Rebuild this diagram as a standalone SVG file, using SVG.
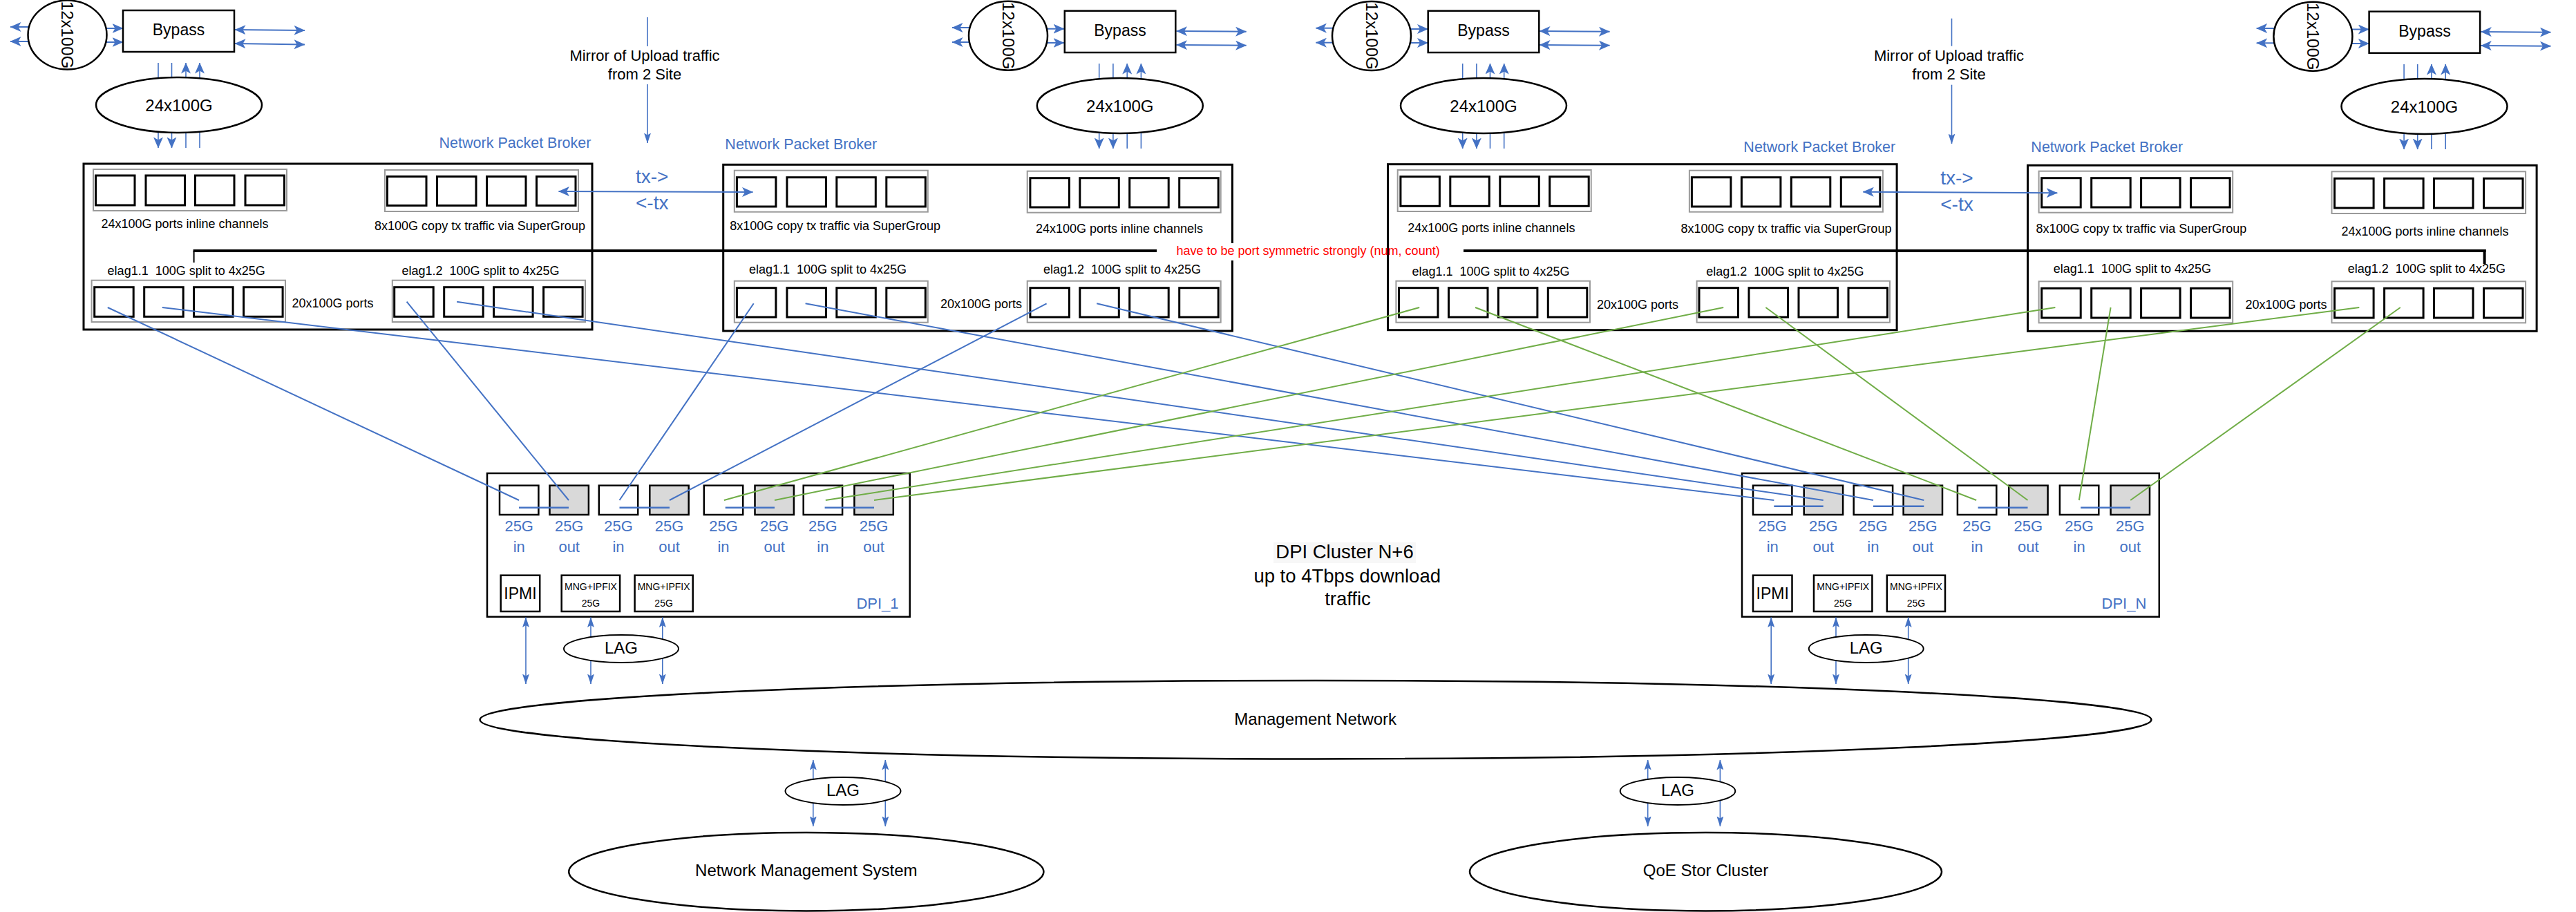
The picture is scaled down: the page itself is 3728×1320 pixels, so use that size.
<svg xmlns="http://www.w3.org/2000/svg" width="3728" height="1320" viewBox="0 0 3728 1320">
<style>
.bg{fill:#fff}
.box{fill:#fff;stroke:#000;stroke-width:3}
.grp{fill:none;stroke:#9a9a9a;stroke-width:2}
.port{fill:#fff;stroke:#000;stroke-width:3}
.pg{fill:#d9d9d9;stroke:#000;stroke-width:3}
.ell{fill:#fff;stroke:#000;stroke-width:2.5}
.t{font-family:"Liberation Sans",Arial,sans-serif;fill:#000}
.m{text-anchor:middle}
.e{text-anchor:end}
.s18{font-size:18px}
.s14{font-size:14px}
.s22{font-size:22px}
.s24{font-size:24px}
.blue{fill:#4472C4}
.npb{font-size:21.5px;fill:#4472C4}
.cb{stroke:#4472C4;stroke-width:2;fill:none}
.cg{stroke:#70AD47;stroke-width:2;fill:none}
.ca{stroke:#4472C4;stroke-width:2;fill:none}
.cv{stroke:#4472C4;stroke-width:1.6;fill:none}
.ab{marker-end:url(#ahb)}
.abb{marker-start:url(#ahb);marker-end:url(#ahb)}
.as{marker-end:url(#ahs)}
.ass{marker-start:url(#ahs);marker-end:url(#ahs)}
</style>
<defs>
<marker id="ahb" viewBox="0 0 16 14" refX="15.5" refY="7" markerWidth="16" markerHeight="14" markerUnits="userSpaceOnUse" orient="auto-start-reverse"><path d="M0,0 L16,7 L0,14 L4,7 Z" fill="#4472C4"/></marker>
<marker id="ahs" viewBox="0 0 15 10" refX="14.5" refY="5" markerWidth="15" markerHeight="10" markerUnits="userSpaceOnUse" orient="auto-start-reverse"><path d="M0,0 L15,5 L0,10 L3,5 Z" fill="#4472C4"/></marker>
</defs>
<rect class="bg" x="0" y="0" width="3728" height="1320"/>

<!-- Bypass 1 -->
<g id="bypass1">
<line class="ca ab" x1="42" y1="39" x2="15" y2="39"/>
<line class="ca ab" x1="42" y1="60" x2="15" y2="60"/>
<line class="ca ab" x1="153" y1="41" x2="178" y2="41"/>
<line class="ca ab" x1="153" y1="61" x2="178" y2="61"/>
<line class="ca abb" x1="340" y1="43" x2="441" y2="44"/>
<line class="ca abb" x1="340" y1="63" x2="441" y2="64.5"/>
<line class="cv" x1="229" y1="91" x2="229" y2="113"/>
<line class="cv" x1="248.5" y1="91" x2="248.5" y2="113"/>
<line class="cv ab" x1="269" y1="113" x2="269" y2="91"/>
<line class="cv ab" x1="289" y1="113" x2="289" y2="91"/>
<line class="cv ab" x1="229" y1="192" x2="229" y2="214"/>
<line class="cv ab" x1="248.5" y1="192" x2="248.5" y2="214"/>
<line class="cv" x1="269" y1="192" x2="269" y2="214"/>
<line class="cv" x1="289" y1="192" x2="289" y2="214"/>
<ellipse class="ell" cx="97.5" cy="50.5" rx="57" ry="50"/>
<text class="t s24 m" x="97.5" y="59" transform="rotate(90 97.5 50.5)">12x100G</text>
<rect class="box" x="178" y="15" width="161" height="60" style="stroke-width:2.5"/>
<text class="t m" style="font-size:23px" x="258.5" y="51">Bypass</text>
<ellipse class="ell" cx="259" cy="152" rx="120" ry="40"/>
<text class="t s24 m" x="259" y="160.7">24x100G</text>
</g>

<!-- Bypass 2 -->
<g id="bypass2">
<line class="ca ab" x1="1404" y1="40" x2="1378" y2="40"/>
<line class="ca ab" x1="1404" y1="61" x2="1378" y2="61"/>
<line class="ca ab" x1="1514" y1="41.7" x2="1540" y2="41.7"/>
<line class="ca ab" x1="1514" y1="62" x2="1540" y2="62"/>
<line class="ca abb" x1="1702.5" y1="45" x2="1803.6" y2="45.8"/>
<line class="ca abb" x1="1702.5" y1="65" x2="1803.6" y2="65.8"/>
<line class="cv" x1="1590.7" y1="92" x2="1590.7" y2="114"/>
<line class="cv" x1="1610.9" y1="92" x2="1610.9" y2="114"/>
<line class="cv ab" x1="1631.2" y1="114" x2="1631.2" y2="92"/>
<line class="cv ab" x1="1651.4" y1="114" x2="1651.4" y2="92"/>
<line class="cv ab" x1="1590.7" y1="193" x2="1590.7" y2="215"/>
<line class="cv ab" x1="1610.9" y1="193" x2="1610.9" y2="215"/>
<line class="cv" x1="1631.2" y1="193" x2="1631.2" y2="215"/>
<line class="cv" x1="1651.4" y1="193" x2="1651.4" y2="215"/>
<ellipse class="ell" cx="1459" cy="51.7" rx="57" ry="50"/>
<text class="t s24 m" x="1459" y="60.2" transform="rotate(90 1459 51.7)">12x100G</text>
<rect class="box" x="1540.8" y="15.7" width="160.5" height="60.3" style="stroke-width:2.5"/>
<text class="t m" style="font-size:23px" x="1621" y="52">Bypass</text>
<ellipse class="ell" cx="1620.8" cy="153" rx="120" ry="40"/>
<text class="t s24 m" x="1620.8" y="161.7">24x100G</text>
</g>

<!-- Bypass 3 -->
<g id="bypass3">
<line class="ca ab" x1="1930" y1="40.7" x2="1904.4" y2="40.7"/>
<line class="ca ab" x1="1930" y1="61.7" x2="1904.4" y2="61.7"/>
<line class="ca ab" x1="2040" y1="42" x2="2066.5" y2="42"/>
<line class="ca ab" x1="2040" y1="62" x2="2066.5" y2="62"/>
<line class="ca abb" x1="2228" y1="45" x2="2329.5" y2="45.8"/>
<line class="ca abb" x1="2228" y1="65" x2="2329.5" y2="65.8"/>
<line class="cv" x1="2116.7" y1="92" x2="2116.7" y2="114"/>
<line class="cv" x1="2136.9" y1="92" x2="2136.9" y2="114"/>
<line class="cv ab" x1="2156.5" y1="114" x2="2156.5" y2="92"/>
<line class="cv ab" x1="2176.7" y1="114" x2="2176.7" y2="92"/>
<line class="cv ab" x1="2116.7" y1="193" x2="2116.7" y2="215"/>
<line class="cv ab" x1="2136.9" y1="193" x2="2136.9" y2="215"/>
<line class="cv" x1="2156.5" y1="193" x2="2156.5" y2="215"/>
<line class="cv" x1="2176.7" y1="193" x2="2176.7" y2="215"/>
<ellipse class="ell" cx="1985" cy="52" rx="57" ry="50"/>
<text class="t s24 m" x="1985" y="60.5" transform="rotate(90 1985 52)">12x100G</text>
<rect class="box" x="2066.7" y="15.7" width="160.6" height="60.3" style="stroke-width:2.5"/>
<text class="t m" style="font-size:23px" x="2147" y="52">Bypass</text>
<ellipse class="ell" cx="2147" cy="153" rx="120" ry="40"/>
<text class="t s24 m" x="2147" y="161.7">24x100G</text>
</g>

<!-- Bypass 4 -->
<g id="bypass4">
<line class="ca ab" x1="3292" y1="41" x2="3265.7" y2="41"/>
<line class="ca ab" x1="3292" y1="62.3" x2="3265.7" y2="62.3"/>
<line class="ca ab" x1="3402" y1="42.5" x2="3428.4" y2="42.5"/>
<line class="ca ab" x1="3402" y1="63" x2="3428.4" y2="63"/>
<line class="ca abb" x1="3590.3" y1="46" x2="3691.4" y2="46.8"/>
<line class="ca abb" x1="3590.3" y1="66" x2="3691.4" y2="66.8"/>
<line class="cv" x1="3479.1" y1="93" x2="3479.1" y2="115"/>
<line class="cv" x1="3498.7" y1="93" x2="3498.7" y2="115"/>
<line class="cv ab" x1="3518.9" y1="115" x2="3518.9" y2="93"/>
<line class="cv ab" x1="3539.2" y1="115" x2="3539.2" y2="93"/>
<line class="cv ab" x1="3479.1" y1="194" x2="3479.1" y2="216"/>
<line class="cv ab" x1="3498.7" y1="194" x2="3498.7" y2="216"/>
<line class="cv" x1="3518.9" y1="194" x2="3518.9" y2="216"/>
<line class="cv" x1="3539.2" y1="194" x2="3539.2" y2="216"/>
<ellipse class="ell" cx="3347.4" cy="52.7" rx="57" ry="50"/>
<text class="t s24 m" x="3347.4" y="61.2" transform="rotate(90 3347.4 52.7)">12x100G</text>
<rect class="box" x="3428.6" y="16.7" width="160.5" height="60" style="stroke-width:2.5"/>
<text class="t m" style="font-size:23px" x="3509" y="53">Bypass</text>
<ellipse class="ell" cx="3508.5" cy="154" rx="120" ry="40"/>
<text class="t s24 m" x="3508.5" y="162.7">24x100G</text>
</g>

<!-- Mirror labels -->
<g id="mirror1">
<line class="cv" x1="937" y1="25" x2="937" y2="67"/>
<line class="cv as" x1="937" y1="122" x2="937" y2="207"/>
<text class="t s22 m" x="933" y="88">Mirror of Upload traffic</text>
<text class="t s22 m" x="933" y="115">from 2 Site</text>
</g>
<g id="mirror2">
<line class="cv" x1="2824.5" y1="26.7" x2="2824.5" y2="66.7"/>
<line class="cv as" x1="2824.5" y1="122.7" x2="2824.5" y2="208"/>
<text class="t s22 m" x="2820.5" y="88.3">Mirror of Upload traffic</text>
<text class="t s22 m" x="2820.5" y="115">from 2 Site</text>
</g>

<!-- NPB 1 -->
<g id="npb1">
<text class="t npb m" x="745.5" y="214">Network Packet Broker</text>
<rect class="box" x="121" y="237" width="736" height="240"/>
<rect class="grp" x="135" y="245" width="280" height="60"/>
<rect class="port" x="138.5" y="254" width="56.5" height="43"/>
<rect class="port" x="211" y="254" width="56.5" height="43"/>
<rect class="port" x="282.5" y="254" width="56.5" height="43"/>
<rect class="port" x="355" y="254" width="56.5" height="43"/>
<rect class="grp" x="557" y="246" width="280" height="60"/>
<rect class="port" x="560.5" y="255.5" width="56.5" height="42"/>
<rect class="port" x="632.5" y="255.5" width="56.5" height="42"/>
<rect class="port" x="704.5" y="255.5" width="56.5" height="42"/>
<rect class="port" x="776.5" y="255.5" width="56.5" height="42"/>
<text class="t s18 m" x="267.5" y="330">24x100G ports inline channels</text>
<text class="t s18 m" x="694.5" y="333">8x100G copy tx traffic via SuperGroup</text>
<text class="t s18 m" x="269.7" y="398" xml:space="preserve">elag1.1  100G split to 4x25G</text>
<text class="t s18 m" x="695.5" y="398" xml:space="preserve">elag1.2  100G split to 4x25G</text>
<text class="t s18 m" x="481.5" y="445">20x100G ports</text>
<rect class="grp" x="132.6" y="405.7" width="280.4" height="60.3"/>
<rect class="port" x="136.7" y="415.7" width="56.5" height="42.6"/>
<rect class="port" x="208.7" y="415.7" width="56.5" height="42.6"/>
<rect class="port" x="280.6" y="415.7" width="56.5" height="42.6"/>
<rect class="port" x="352.6" y="415.7" width="56.5" height="42.6"/>
<rect class="grp" x="567.8" y="405.7" width="279.2" height="60.3"/>
<rect class="port" x="570.7" y="415.7" width="56.5" height="42.6"/>
<rect class="port" x="642.7" y="415.7" width="56.5" height="42.6"/>
<rect class="port" x="714.6" y="415.7" width="56.5" height="42.6"/>
<rect class="port" x="786.6" y="415.7" width="56.5" height="42.6"/>
</g>

<!-- NPB 2 -->
<g id="npb2">
<text class="t npb m" x="1159.3" y="216">Network Packet Broker</text>
<rect class="box" x="1046.7" y="238.3" width="736.7" height="240.7"/>
<rect class="grp" x="1062.8" y="246.7" width="280" height="60"/>
<rect class="port" x="1066.4" y="256.7" width="56.5" height="42.3"/>
<rect class="port" x="1138.9" y="256.7" width="56.5" height="42.3"/>
<rect class="port" x="1210.8" y="256.7" width="56.5" height="42.3"/>
<rect class="port" x="1282.8" y="256.7" width="56.5" height="42.3"/>
<rect class="grp" x="1486.7" y="247.7" width="280" height="60"/>
<rect class="port" x="1490.9" y="257.7" width="56.5" height="42.3"/>
<rect class="port" x="1562.8" y="257.7" width="56.5" height="42.3"/>
<rect class="port" x="1634.7" y="257.7" width="56.5" height="42.3"/>
<rect class="port" x="1706.7" y="257.7" width="56.5" height="42.3"/>
<text class="t s18 m" x="1208.7" y="333">8x100G copy tx traffic via SuperGroup</text>
<text class="t s18 m" x="1620" y="337">24x100G ports inline channels</text>
<text class="t s18 m" x="1198" y="396" xml:space="preserve">elag1.1  100G split to 4x25G</text>
<text class="t s18 m" x="1624" y="396" xml:space="preserve">elag1.2  100G split to 4x25G</text>
<text class="t s18 m" x="1420" y="446">20x100G ports</text>
<rect class="grp" x="1062.8" y="406.7" width="280" height="60"/>
<rect class="port" x="1066.4" y="416.7" width="56.5" height="42.3"/>
<rect class="port" x="1138.9" y="416.7" width="56.5" height="42.3"/>
<rect class="port" x="1210.8" y="416.7" width="56.5" height="42.3"/>
<rect class="port" x="1282.8" y="416.7" width="56.5" height="42.3"/>
<rect class="grp" x="1486.7" y="406.7" width="280" height="60"/>
<rect class="port" x="1490.9" y="416.7" width="56.5" height="42.3"/>
<rect class="port" x="1562.8" y="416.7" width="56.5" height="42.3"/>
<rect class="port" x="1634.7" y="416.7" width="56.5" height="42.3"/>
<rect class="port" x="1706.7" y="416.7" width="56.5" height="42.3"/>
</g>

<!-- NPB 3 -->
<g id="npb3">
<text class="t npb m" x="2633.3" y="220">Network Packet Broker</text>
<rect class="box" x="2008.5" y="237.7" width="736.6" height="240"/>
<rect class="grp" x="2022.7" y="246" width="280" height="60"/>
<rect class="port" x="2026.9" y="255.7" width="56.5" height="42.6"/>
<rect class="port" x="2098.8" y="255.7" width="56.5" height="42.6"/>
<rect class="port" x="2170.8" y="255.7" width="56.5" height="42.6"/>
<rect class="port" x="2242.7" y="255.7" width="56.5" height="42.6"/>
<rect class="grp" x="2444.9" y="246.7" width="280" height="60"/>
<rect class="port" x="2448.4" y="256.7" width="56.5" height="42.3"/>
<rect class="port" x="2520.4" y="256.7" width="56.5" height="42.3"/>
<rect class="port" x="2592.3" y="256.7" width="56.5" height="42.3"/>
<rect class="port" x="2664.3" y="256.7" width="56.5" height="42.3"/>
<text class="t s18 m" x="2158.3" y="335.7">24x100G ports inline channels</text>
<text class="t s18 m" x="2585" y="337">8x100G copy tx traffic via SuperGroup</text>
<text class="t s18 m" x="2157.5" y="399" xml:space="preserve">elag1.1  100G split to 4x25G</text>
<text class="t s18 m" x="2583.4" y="399" xml:space="preserve">elag1.2  100G split to 4x25G</text>
<text class="t s18 m" x="2370" y="447">20x100G ports</text>
<rect class="grp" x="2020.4" y="406.7" width="280.6" height="60"/>
<rect class="port" x="2024.5" y="416.7" width="56.5" height="42.3"/>
<rect class="port" x="2096.5" y="416.7" width="56.5" height="42.3"/>
<rect class="port" x="2168.4" y="416.7" width="56.5" height="42.3"/>
<rect class="port" x="2240.3" y="416.7" width="56.5" height="42.3"/>
<rect class="grp" x="2455.6" y="406.7" width="279.4" height="60"/>
<rect class="port" x="2459" y="416.7" width="56.5" height="42.3"/>
<rect class="port" x="2531" y="416.7" width="56.5" height="42.3"/>
<rect class="port" x="2603" y="416.7" width="56.5" height="42.3"/>
<rect class="port" x="2675" y="416.7" width="56.5" height="42.3"/>
</g>

<!-- NPB 4 -->
<g id="npb4">
<text class="t npb m" x="3049.3" y="220">Network Packet Broker</text>
<rect class="box" x="2934.5" y="239.3" width="736.6" height="240"/>
<rect class="grp" x="2950.6" y="247.7" width="280.6" height="60"/>
<rect class="port" x="2954.7" y="257.7" width="56.5" height="42.3"/>
<rect class="port" x="3026.7" y="257.7" width="56.5" height="42.3"/>
<rect class="port" x="3098.6" y="257.7" width="56.5" height="42.3"/>
<rect class="port" x="3170.6" y="257.7" width="56.5" height="42.3"/>
<rect class="grp" x="3374.5" y="248.3" width="280.6" height="60.7"/>
<rect class="port" x="3378.6" y="258.3" width="56.5" height="42.7"/>
<rect class="port" x="3450.6" y="258.3" width="56.5" height="42.7"/>
<rect class="port" x="3522.5" y="258.3" width="56.5" height="42.7"/>
<rect class="port" x="3594.5" y="258.3" width="56.5" height="42.7"/>
<text class="t s18 m" x="3098.9" y="336.7">8x100G copy tx traffic via SuperGroup</text>
<text class="t s18 m" x="3509.5" y="340.7">24x100G ports inline channels</text>
<text class="t s18 m" x="3085.9" y="395" xml:space="preserve">elag1.1  100G split to 4x25G</text>
<text class="t s18 m" x="3511.9" y="395" xml:space="preserve">elag1.2  100G split to 4x25G</text>
<text class="t s18 m" x="3308.5" y="446.7">20x100G ports</text>
<rect class="grp" x="2950.6" y="407.3" width="280.6" height="60"/>
<rect class="port" x="2954.7" y="417.3" width="56.5" height="42.7"/>
<rect class="port" x="3026.7" y="417.3" width="56.5" height="42.7"/>
<rect class="port" x="3098.6" y="417.3" width="56.5" height="42.7"/>
<rect class="port" x="3170.6" y="417.3" width="56.5" height="42.7"/>
<rect class="grp" x="3374.5" y="407.3" width="280.6" height="60"/>
<rect class="port" x="3378.6" y="417.3" width="56.5" height="42.7"/>
<rect class="port" x="3450.6" y="417.3" width="56.5" height="42.7"/>
<rect class="port" x="3522.5" y="417.3" width="56.5" height="42.7"/>
<rect class="port" x="3594.5" y="417.3" width="56.5" height="42.7"/>
</g>

<!-- symmetry annotation -->
<g id="symmetry">
<line x1="280.6" y1="363" x2="280.6" y2="380" stroke="#000" stroke-width="2"/>
<line x1="279.6" y1="363" x2="1674" y2="363" stroke="#000" stroke-width="4"/>
<line x1="2118" y1="363" x2="3597.6" y2="363" stroke="#000" stroke-width="4"/>
<line x1="3595.6" y1="361" x2="3595.6" y2="382" stroke="#000" stroke-width="4"/>
<rect x="1700" y="352" width="100" height="25" fill="#fff"/>
<text class="t s18" x="1702.5" y="369" style="fill:#FF0000">have to be port symmetric strongly (num, count)</text>
</g>

<!-- tx labels -->
<g id="tx1">
<text class="t m blue" style="font-size:28px" x="943.7" y="265">tx-&gt;</text>
<text class="t m blue" style="font-size:28px" x="943.7" y="303">&lt;-tx</text>
</g>
<g id="tx2">
<text class="t m blue" style="font-size:28px" x="2832" y="266.7">tx-&gt;</text>
<text class="t m blue" style="font-size:28px" x="2832" y="305">&lt;-tx</text>
</g>

<!-- DPI_1 -->
<g id="dpi1">
<rect class="box" x="705" y="685" width="611.7" height="207.7" style="stroke-width:2.5"/>
<rect class="port" x="723" y="702.7" width="56.4" height="42.3" style="stroke-width:2.5"/>
<rect class="pg" x="795.5" y="702.7" width="56.4" height="42.3" style="stroke-width:2.5"/>
<rect class="port" x="866.8" y="702.7" width="56.4" height="42.3" style="stroke-width:2.5"/>
<rect class="pg" x="940.3" y="702.7" width="56.4" height="42.3" style="stroke-width:2.5"/>
<rect class="port" x="1018.8" y="702.7" width="56.4" height="42.3" style="stroke-width:2.5"/>
<rect class="pg" x="1092.5" y="702.7" width="56.4" height="42.3" style="stroke-width:2.5"/>
<rect class="port" x="1162.7" y="702.7" width="56.4" height="42.3" style="stroke-width:2.5"/>
<rect class="pg" x="1236.4" y="702.7" width="56.4" height="42.3" style="stroke-width:2.5"/>
<g class="t s22 m blue">
<text x="751.2" y="769.3">25G</text><text x="751.2" y="799.3">in</text>
<text x="823.7" y="769.3">25G</text><text x="823.7" y="799.3">out</text>
<text x="895" y="769.3">25G</text><text x="895" y="799.3">in</text>
<text x="968.5" y="769.3">25G</text><text x="968.5" y="799.3">out</text>
<text x="1047" y="769.3">25G</text><text x="1047" y="799.3">in</text>
<text x="1120.7" y="769.3">25G</text><text x="1120.7" y="799.3">out</text>
<text x="1190.9" y="769.3">25G</text><text x="1190.9" y="799.3">in</text>
<text x="1264.6" y="769.3">25G</text><text x="1264.6" y="799.3">out</text>
</g>
<rect class="port" x="724.7" y="832.7" width="56.5" height="52.3" style="stroke-width:2.5"/>
<text class="t m" style="font-size:23px" x="753" y="866.7">IPMI</text>
<rect class="port" x="812.7" y="832.7" width="84.4" height="52.3" style="stroke-width:2.5"/>
<text class="t s14 m" x="855" y="854.3">MNG+IPFIX</text>
<text class="t s14 m" x="855" y="877.7">25G</text>
<rect class="port" x="918.6" y="832.7" width="84.1" height="52.3" style="stroke-width:2.5"/>
<text class="t s14 m" x="960.6" y="854.3">MNG+IPFIX</text>
<text class="t s14 m" x="960.6" y="877.7">25G</text>
<text class="t e blue" style="font-size:22px" x="1300.6" y="881">DPI_1</text>
</g>

<!-- DPI_N -->
<g id="dpiN">
<rect class="box" x="2521" y="685" width="603.8" height="207.7" style="stroke-width:2.5"/>
<rect class="port" x="2537" y="702.7" width="56.4" height="42.3" style="stroke-width:2.5"/>
<rect class="pg" x="2610.7" y="702.7" width="56.4" height="42.3" style="stroke-width:2.5"/>
<rect class="port" x="2682.7" y="702.7" width="56.4" height="42.3" style="stroke-width:2.5"/>
<rect class="pg" x="2754.6" y="702.7" width="56.4" height="42.3" style="stroke-width:2.5"/>
<rect class="port" x="2832.9" y="702.7" width="56.4" height="42.3" style="stroke-width:2.5"/>
<rect class="pg" x="2907.2" y="702.7" width="56.4" height="42.3" style="stroke-width:2.5"/>
<rect class="port" x="2980.9" y="702.7" width="56.4" height="42.3" style="stroke-width:2.5"/>
<rect class="pg" x="3054.6" y="702.7" width="56.4" height="42.3" style="stroke-width:2.5"/>
<g class="t s22 m blue">
<text x="2565.2" y="769.3">25G</text><text x="2565.2" y="799.3">in</text>
<text x="2638.9" y="769.3">25G</text><text x="2638.9" y="799.3">out</text>
<text x="2710.9" y="769.3">25G</text><text x="2710.9" y="799.3">in</text>
<text x="2782.8" y="769.3">25G</text><text x="2782.8" y="799.3">out</text>
<text x="2861.1" y="769.3">25G</text><text x="2861.1" y="799.3">in</text>
<text x="2935.4" y="769.3">25G</text><text x="2935.4" y="799.3">out</text>
<text x="3009.1" y="769.3">25G</text><text x="3009.1" y="799.3">in</text>
<text x="3082.8" y="769.3">25G</text><text x="3082.8" y="799.3">out</text>
</g>
<rect class="port" x="2537" y="832.7" width="56.5" height="52.3" style="stroke-width:2.5"/>
<text class="t m" style="font-size:23px" x="2565.2" y="866.7">IPMI</text>
<rect class="port" x="2625" y="832.7" width="84.4" height="52.3" style="stroke-width:2.5"/>
<text class="t s14 m" x="2667.2" y="854.3">MNG+IPFIX</text>
<text class="t s14 m" x="2667.2" y="877.7">25G</text>
<rect class="port" x="2730.8" y="832.7" width="84.2" height="52.3" style="stroke-width:2.5"/>
<text class="t s14 m" x="2772.9" y="854.3">MNG+IPFIX</text>
<text class="t s14 m" x="2772.9" y="877.7">25G</text>
<text class="t e blue" style="font-size:22px" x="3106.3" y="881">DPI_N</text>
</g>

<!-- DPI cluster label -->
<g id="cluster-label">
<rect x="1843" y="785" width="206" height="30" fill="#f7f7f7"/>
<text class="t m" style="font-size:27.5px" x="1946" y="808.3">DPI Cluster N+6</text>
<text class="t m" style="font-size:27.5px" x="1949.7" y="842.7">up to 4Tbps download</text>
<text class="t m" style="font-size:27.5px" x="1950.5" y="876">traffic</text>
</g>

<!-- connectors -->
<g id="connectors">
<line class="ca abb" x1="808.5" y1="277" x2="1089.5" y2="278"/>
<line class="ca abb" x1="2696.3" y1="277.7" x2="2977.3" y2="279.3"/>
<line class="cb" x1="155.8" y1="445" x2="751" y2="724"/>
<line class="cb" x1="234.8" y1="445" x2="2567.3" y2="724"/>
<line class="cb" x1="588.6" y1="436.7" x2="823" y2="724"/>
<line class="cb" x1="661.1" y1="436.7" x2="2638.7" y2="724"/>
<line class="cb" x1="1090.7" y1="439.3" x2="896.5" y2="724"/>
<line class="cb" x1="1165.6" y1="439.3" x2="2711" y2="724"/>
<line class="cb" x1="1514.6" y1="439.3" x2="968.9" y2="724"/>
<line class="cb" x1="1587.2" y1="439.3" x2="2784.3" y2="724"/>
<line class="cg" x1="2054.2" y1="445" x2="1047.9" y2="724"/>
<line class="cg" x1="2135" y1="445" x2="2860.2" y2="724"/>
<line class="cg" x1="2494.2" y1="445" x2="1121" y2="724"/>
<line class="cg" x1="2555.4" y1="445" x2="2934.5" y2="724"/>
<line class="cg" x1="2974.4" y1="445" x2="1194.8" y2="724"/>
<line class="cg" x1="3054.6" y1="445" x2="3008.8" y2="724"/>
<line class="cg" x1="3414.3" y1="445" x2="1265" y2="724"/>
<line class="cg" x1="3473.8" y1="445" x2="3083.2" y2="724"/>
<g stroke="#4472C4" stroke-width="2.5">
<line x1="751" y1="734.7" x2="823" y2="734.7"/>
<line x1="896.5" y1="734.7" x2="969" y2="734.7"/>
<line x1="1049.7" y1="734.7" x2="1121" y2="734.7"/>
<line x1="1193.6" y1="734.7" x2="1265" y2="734.7"/>
<line x1="2567.3" y1="732.7" x2="2638.7" y2="732.7"/>
<line x1="2711" y1="732.7" x2="2784.3" y2="732.7"/>
<line x1="2862.6" y1="734.7" x2="2934.5" y2="734.7"/>
<line x1="3011.2" y1="734.7" x2="3083.2" y2="734.7"/>
</g>
<line class="cv ass" x1="761" y1="893.5" x2="761" y2="990"/>
<line class="cv ass" x1="855" y1="893.5" x2="855" y2="990"/>
<line class="cv ass" x1="958.8" y1="893.5" x2="958.8" y2="990"/>
<line class="cv ass" x1="2563.2" y1="893.5" x2="2563.2" y2="990"/>
<line class="cv ass" x1="2657" y1="893.5" x2="2657" y2="990"/>
<line class="cv ass" x1="2761.7" y1="893.5" x2="2761.7" y2="990"/>
<line class="cv ass" x1="1176.8" y1="1100" x2="1176.8" y2="1196"/>
<line class="cv ass" x1="1281.3" y1="1100" x2="1281.3" y2="1196"/>
<line class="cv ass" x1="2384.7" y1="1100" x2="2384.7" y2="1196"/>
<line class="cv ass" x1="2489.4" y1="1100" x2="2489.4" y2="1196"/>
</g>

<!-- LAG nodes -->
<g id="lag1">
<ellipse class="ell" cx="899" cy="939" rx="83" ry="20" style="stroke-width:2"/>
<text class="t s24 m" x="899" y="946">LAG</text>
</g>
<g id="lagN">
<ellipse class="ell" cx="2700.7" cy="939" rx="83" ry="20" style="stroke-width:2"/>
<text class="t s24 m" x="2700.7" y="946">LAG</text>
</g>
<g id="lag-nms">
<ellipse class="ell" cx="1220" cy="1145" rx="83.5" ry="20" style="stroke-width:2"/>
<text class="t s24 m" x="1220" y="1151.7">LAG</text>
</g>
<g id="lag-qoe">
<ellipse class="ell" cx="2428" cy="1145" rx="83.3" ry="20" style="stroke-width:2"/>
<text class="t s24 m" x="2428" y="1151.7">LAG</text>
</g>

<!-- Management network / NMS / QoE -->
<g id="mgmt-net">
<ellipse class="ell" cx="1904" cy="1041.7" rx="1209.4" ry="56.7"/>
<text class="t s24 m" x="1903.7" y="1049.3">Management Network</text>
</g>
<g id="nms">
<ellipse class="ell" cx="1166.8" cy="1261.7" rx="343.6" ry="56.7"/>
<text class="t s24 m" x="1166.8" y="1268.3">Network Management System</text>
</g>
<g id="qoe">
<ellipse class="ell" cx="2468.5" cy="1261.7" rx="341.5" ry="56.7"/>
<text class="t s24 m" x="2468.5" y="1268">QoE Stor Cluster</text>
</g>
</svg>
